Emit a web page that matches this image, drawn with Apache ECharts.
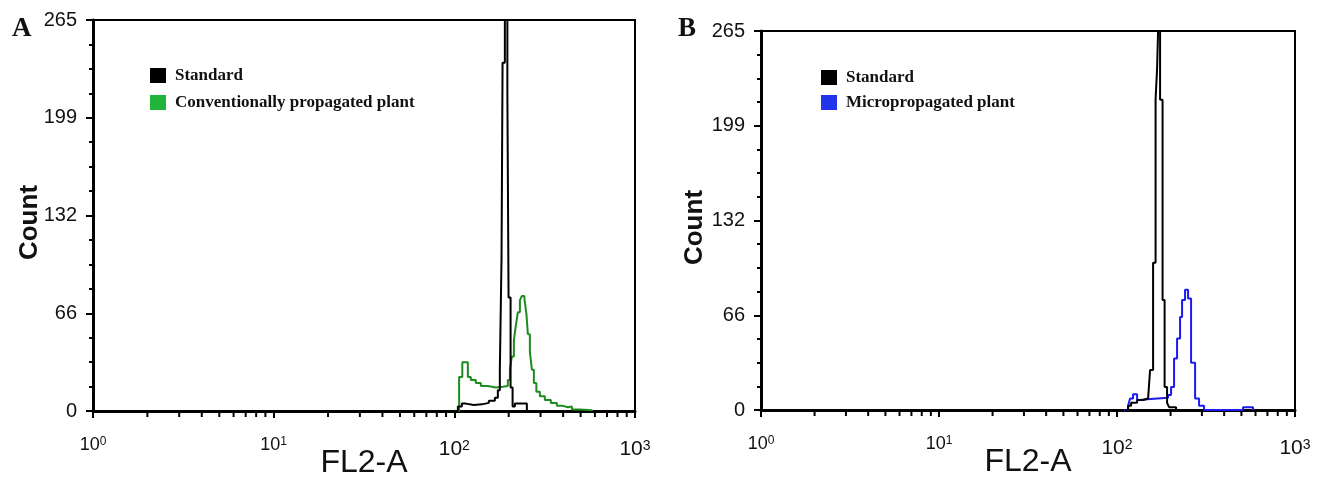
<!DOCTYPE html>
<html>
<head>
<meta charset="utf-8">
<script src="https://cdn.jsdelivr.net/npm/echarts@6/dist/echarts.min.js"></script>
<style>
  html, body { margin: 0; padding: 0; background: #fff; }
  #chart { width: 1319px; height: 482px; }
</style>
</head>
<body>
<div id="chart"></div>
<script>
// ---- Tick labels ----
const yTickLabels = ['0', '66', '132', '199', '265'];
const xTickExps = ['0', '1', '2', '3'];
const xMinorTicks = [2, 3, 4, 5, 6, 7, 8, 9, 20, 30, 40, 50, 60, 70, 80, 90, 200, 300, 400, 500, 600, 700, 800, 900];

// ---- Panel A: FL2-A channel (left bin edge) and counts ----
const stdA_x = [100.6, 104.6, 110.0, 115.8, 128.2, 142.0, 155.3, 167.6, 174.1, 178.6, 182.5, 184.9, 190.4, 196.6, 199.6, 204.8, 210.1, 216.3, 252.0];
const stdA_y = [0, 3, 5, 4, 4.5, 5.5, 7, 9, 14, 28, 104, 236, 265, 215, 77, 16, 3, 5, 0];
const convA_x = [100.6, 106.3, 110.7, 118.8, 123.4, 131.5, 140.2, 153.3, 169.8, 185.6, 197.8, 203.0, 208.2, 213.6, 219.1, 224.7, 230.6, 236.5, 244.2, 250.5, 255.3, 261.9, 268.6, 275.6, 284.5, 297.5, 317.0, 342.2, 369.5, 398.9, 425.2, 447.4, 495.3, 577.3];
const convA_y = [0, 23, 33, 23, 21, 19, 17, 16, 16.5, 17, 21, 28, 37, 48, 58, 67, 75, 78, 76, 66, 52, 40, 28, 19, 13, 10, 7.5, 5.5, 3.5, 2.5, 3, 1, 0.5, 0];

// ---- Panel B ----
const stdB_x = [111.0, 115.4, 120.0, 129.7, 140.1, 149.5, 153.4, 159.5, 164.7, 168.0, 170.1, 174.6, 180.3, 185.1, 191.1, 196.1, 214.7];
const stdB_y = [0, 3, 5, 7, 8, 9, 28, 103, 217, 239, 265, 217, 77, 16, 5, 2, 0];
const microB_x = [109.6, 115.4, 118.4, 123.1, 129.7, 134.8, 147.6, 193.6, 201.3, 209.2, 217.5, 226.1, 232.1, 241.2, 250.8, 260.7, 274.6, 289.1, 308.4, 510.5, 581.1];
const microB_y = [0, 3, 8, 11, 7, 7.5, 8.5, 10.5, 16, 36, 50, 65, 77, 84, 78, 33, 8, 3, 0, 2, 0];

const zip = (xs, ys) => xs.map((x, i) => [x, ys[i]]);

const SANS = "'Liberation Sans', Arial, sans-serif";
const SERIF = "'Liberation Serif', 'Times New Roman', serif";

function xAxisCfg(gridIndex) {
  return {
    type: 'log', logBase: 10, min: 1, max: 1000, gridIndex: gridIndex,
    axisLine: { show: true, lineStyle: { color: '#000', width: 3 } },
    axisTick: { show: true, inside: false, length: 7, lineStyle: { color: '#000', width: 2 } },
    splitLine: { show: false },
    minorTick: { show: false },
    axisLabel: {
      margin: 23,
      color: '#111',
      fontFamily: SANS,
      formatter: function (v) {
        const e = Math.round(Math.log10(v));
        const s = xTickExps[e];
        if (s === undefined) return '';
        return e >= 2 ? '{B|10}{S|' + s + '}' : '{b|10}{s|' + s + '}';
      },
      rich: {
        b: { fontSize: 18, lineHeight: 22, fontFamily: SANS, color: '#111' },
        s: { fontSize: 12, lineHeight: 12, verticalAlign: 'top', padding: [2, 0, 0, 0], fontFamily: SANS, color: '#111' },
        B: { fontSize: 21, lineHeight: 30, fontFamily: SANS, color: '#111' },
        S: { fontSize: 14, lineHeight: 14, verticalAlign: 'top', padding: [5, 0, 0, 0], fontFamily: SANS, color: '#111' }
      }
    },
    name: 'FL2-A',
    nameLocation: 'middle',
    nameGap: 36,
    nameMoveOverlap: false,
    nameTextStyle: { fontFamily: SANS, fontSize: 32, color: '#111', verticalAlign: 'top' }
  };
}

function yAxisCfg(gridIndex, gap) {
  return {
    type: 'value', min: 0, max: 265, interval: 66.25, gridIndex: gridIndex,
    axisLine: { show: true, lineStyle: { color: '#000', width: 3 } },
    axisTick: { show: true, inside: false, length: 7, lineStyle: { color: '#000', width: 2 } },
    minorTick: { show: true, splitNumber: 4, length: 4, lineStyle: { color: '#000', width: 2 } },
    splitLine: { show: false },
    axisLabel: {
      margin: 16,
      fontFamily: SANS, fontSize: 20, color: '#111',
      formatter: function (v) { return yTickLabels[Math.round(v / 66.25)]; }
    },
    name: 'Count',
    nameLocation: 'middle',
    nameRotate: 90,
    nameGap: gap,
    nameMoveOverlap: false,
    nameTextStyle: { fontFamily: SANS, fontSize: 26, fontWeight: 'bold', color: '#111', padding: [0, 14, 0, 0] }
  };
}

function minorTickSeries(idx) {
  return {
    type: 'custom', xAxisIndex: idx, yAxisIndex: idx, silent: true, clip: false, z: 5,
    data: xMinorTicks.map(v => [v, 0]),
    renderItem: function (params, api) {
      const p = api.coord([api.value(0), 0]);
      return { type: 'line', shape: { x1: p[0], y1: p[1] + 1, x2: p[0], y2: p[1] + 6 }, style: { stroke: '#000', lineWidth: 2 } };
    }
  };
}

function histSeries(name, data, idx, color, width, z) {
  return {
    name: name, type: 'line', step: 'end', xAxisIndex: idx, yAxisIndex: idx,
    data: data, showSymbol: false, symbol: 'none', z: z,
    lineStyle: { color: color, width: width },
    itemStyle: { color: color }
  };
}

const legendText = { fontFamily: SERIF, fontWeight: 'bold', fontSize: 17, lineHeight: 17, color: '#111', padding: [0, 0, 0, 4] };

const option = {
  animation: false,
  backgroundColor: '#fff',
  grid: [
    { left: 93, top: 20, width: 542, height: 391, show: true, borderColor: '#000', borderWidth: 2, containLabel: false, outerBoundsMode: 'none' },
    { left: 761, top: 31, width: 534, height: 379, show: true, borderColor: '#000', borderWidth: 2, containLabel: false, outerBoundsMode: 'none' }
  ],
  xAxis: [xAxisCfg(0), xAxisCfg(1)],
  yAxis: [yAxisCfg(0, 50), yAxisCfg(1, 53)],
  legend: [
    {
      left: 145, top: 62, orient: 'vertical', icon: 'rect', itemWidth: 16, itemHeight: 15, itemGap: 10,
      selectedMode: false,
      textStyle: legendText,
      data: [
        { name: 'Standard', itemStyle: { color: '#000' } },
        { name: 'Conventionally propagated plant', itemStyle: { color: '#22b43a' } }
      ]
    },
    {
      left: 816, top: 64, orient: 'vertical', icon: 'rect', itemWidth: 16, itemHeight: 15, itemGap: 8,
      selectedMode: false,
      textStyle: legendText,
      data: [
        { name: 'Standard', itemStyle: { color: '#000' } },
        { name: 'Micropropagated plant', itemStyle: { color: '#2233ee' } }
      ]
    }
  ],
  graphic: [
    { type: 'text', left: 12, top: 16, style: { text: 'A', font: "bold 27px 'Liberation Serif', serif", fill: '#111' } },
    { type: 'text', left: 678, top: 16, style: { text: 'B', font: "bold 27px 'Liberation Serif', serif", fill: '#111' } }
  ],
  series: [
    histSeries('Conventionally propagated plant', zip(convA_x, convA_y), 0, '#1e8c1e', 2, 3),
    histSeries('Standard', zip(stdA_x, stdA_y), 0, '#000', 2, 4),
    histSeries('Micropropagated plant', zip(microB_x, microB_y), 1, '#1b1bf0', 2, 3),
    histSeries('Standard', zip(stdB_x, stdB_y), 1, '#000', 2, 4),
    minorTickSeries(0),
    minorTickSeries(1)
  ]
};

const chart = echarts.init(document.getElementById('chart'), null, { renderer: 'canvas' });
chart.setOption(option);
</script>
</body>
</html>
